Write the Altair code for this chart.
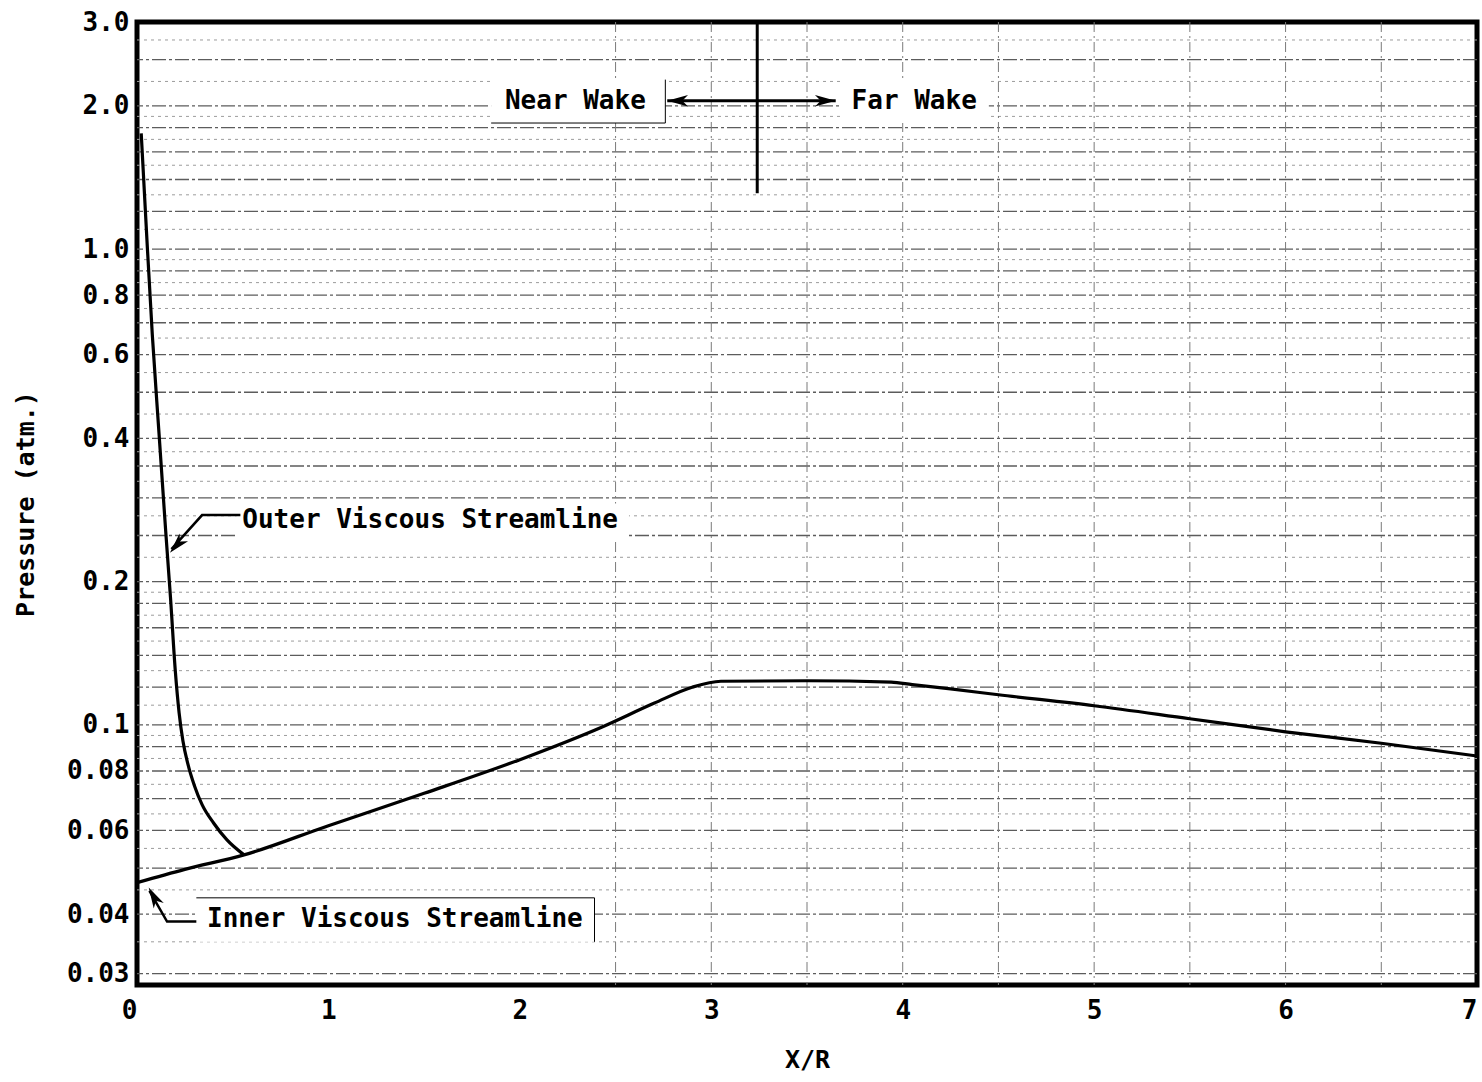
import altair as alt
import pandas as pd

# ---------------- data ----------------
outer_x = [0.022, 0.05, 0.08, 0.115, 0.15, 0.175, 0.20, 0.22, 0.24, 0.265, 0.30, 0.34, 0.40, 0.47, 0.559]
outer_p = [1.75, 1.08, 0.66, 0.41, 0.255, 0.185, 0.130, 0.106, 0.0925, 0.0830, 0.0745, 0.0680, 0.0622, 0.0573, 0.0533]

inner_x = [0.0, 0.25, 0.559, 1.0, 1.5, 2.0, 2.43, 2.7, 2.9, 3.05, 3.5, 3.94, 4.05, 4.25, 4.5, 5.0, 5.5, 6.0, 6.5, 7.0]
inner_p = [0.0466, 0.0497, 0.0533, 0.0614, 0.0718, 0.0845, 0.099, 0.111, 0.120, 0.1235, 0.1238, 0.123,
           0.1215, 0.119, 0.1157, 0.1097, 0.103, 0.0967, 0.0915, 0.086]

y_ticks = [0.03, 0.04, 0.06, 0.08, 0.1, 0.2, 0.4, 0.6, 0.8, 1.0, 2.0, 3.0]
x_ticks = [0, 1, 2, 3, 4, 5, 6, 7]

grid_major = [0.03, 0.04, 0.05, 0.06, 0.07, 0.08, 0.09, 0.1, 0.12, 0.14, 0.16, 0.18, 0.2, 0.25,
              0.3, 0.35, 0.4, 0.5, 0.6, 0.7, 0.8, 0.9, 1.0, 1.2, 1.4, 1.6, 1.8, 2.0, 2.5]
grid_minor = [0.035, 0.045, 0.055, 0.065, 0.075, 0.085, 0.095, 0.11, 0.13, 0.15, 0.17, 0.19,
              0.225, 0.275, 0.325, 0.375, 0.45, 0.55, 0.65, 0.75, 0.85, 0.95, 1.1, 1.3, 1.5,
              1.7, 1.9, 2.25, 2.75]
grid_vert = [2.5, 3.0, 3.5, 4.0, 4.5, 5.0, 5.5, 6.0, 6.5]

# annotation labels
label_text = ["Near Wake", "Far Wake", "Outer Viscous Streamline", "Inner Viscous Streamline"]
label_x = [2.29, 4.06, 0.55, 0.366]
label_p = [2.05, 2.05, 0.27, 0.039]
label_align = ["center", "center", "left", "left"]

# white label backgrounds
box_x = [1.85, 3.68, 0.52, 0.31]
box_x2 = [2.76, 4.45, 2.57, 2.39]
box_p = [1.84, 1.84, 0.247, 0.035]
box_p2 = [2.27, 2.27, 0.292, 0.0433]

# leader lines (polylines)
lead_grp = ["wake", "wake", "div", "div", "outer", "outer", "outer", "inner", "inner", "inner",
            "nbox", "nbox", "nbox", "ibox", "ibox", "ibox"]
lead_x = [2.77, 3.65, 3.24, 3.24, 0.54, 0.34, 0.18, 0.31, 0.157, 0.065,
          1.85, 2.76, 2.76, 0.31, 2.39, 2.39]
lead_p = [2.05, 2.05, 3.0, 1.31, 0.276, 0.276, 0.234, 0.0386, 0.0386, 0.0448,
          1.84, 1.84, 2.27, 0.0433, 0.0433, 0.035]
lead_w = [3, 3, 3, 3, 2.5, 2.5, 2.5, 2.5, 2.5, 2.5, 1, 1, 1, 1, 1, 1]

# arrowheads
head_x = [2.77, 3.65, 0.172, 0.061]
head_p = [2.05, 2.05, 0.230, 0.0455]
head_angle = [270, 90, 222, 331]

# ---------------- build tables ----------------
curves = pd.DataFrame(
    {"x": outer_x + inner_x,
     "p": outer_p + inner_p,
     "curve": ["outer"] * len(outer_x) + ["inner"] * len(inner_x),
     "o": list(range(len(outer_x))) + list(range(len(inner_x)))}
)
labels = pd.DataFrame({"x": label_x, "p": label_p, "label": label_text, "align": label_align})
boxes = pd.DataFrame({"x": box_x, "x2": box_x2, "p": box_p, "p2": box_p2})
leads = pd.DataFrame({"x": lead_x, "p": lead_p, "grp": lead_grp, "w": lead_w,
                      "o": list(range(len(lead_x)))})
heads = pd.DataFrame({"x": head_x, "p": head_p, "angle": head_angle})
gh = pd.DataFrame({"p": grid_major + grid_minor,
                   "kind": ["major"] * len(grid_major) + ["minor"] * len(grid_minor)})
gv = pd.DataFrame({"x": grid_vert})

FONT = "DejaVu Sans Mono"

xs = alt.Scale(domain=[0, 7], nice=False, zero=False)
ys = alt.Scale(type="log", domain=[0.0284, 3.0], nice=False)

x_axis = alt.Axis(values=x_ticks, format="d", title="X/R", labelPadding=12, titlePadding=24,
                  labelFlush=False,
                  labelAlign={"condition": {"test": "datum.value >= 7 || datum.value <= 0",
                                            "value": "right"},
                              "value": "center"},
                  grid=False, ticks=False, domain=False)
y_axis = alt.Axis(values=y_ticks, title="Pressure (atm.)", labelPadding=8, titlePadding=28,
                  grid=False, ticks=False, domain=False,
                  labelExpr="datum.value >= 1 ? format(datum.value, '.1f') : format(datum.value, '~g')")


def X(field="x"):
    return alt.X(f"{field}:Q", scale=xs, axis=x_axis)


def Y(field="p"):
    return alt.Y(f"{field}:Q", scale=ys, axis=y_axis)


grid_h_major = alt.Chart(gh).transform_filter("datum.kind == 'major'").mark_rule(
    color="#5c5c5c", strokeWidth=1.3, strokeDash=[14, 3, 3, 3]
).encode(y=Y())
grid_h_minor = alt.Chart(gh).transform_filter("datum.kind == 'minor'").mark_rule(
    color="#9c9c9c", strokeWidth=1, strokeDash=[3, 4]
).encode(y=Y())
grid_v = alt.Chart(gv).mark_rule(color="#7a7a7a", strokeWidth=1, strokeDash=[10, 4, 2, 4]).encode(
    x=X()
)

box_layer = alt.Chart(boxes).mark_rect(color="white", opacity=1).encode(
    x=X(), x2="x2:Q", y=Y(), y2="p2:Q"
)

curve_layer = alt.Chart(curves).mark_line(
    color="black", strokeWidth=3.2, interpolate="monotone"
).encode(x=X(), y=Y(), detail="curve:N", order="o:Q")

lead_layer = alt.Chart(leads).mark_line(color="black").encode(
    x=X(), y=Y(), detail="grp:N", order="o:Q",
    strokeWidth=alt.StrokeWidth("w:Q", scale=None, legend=None)
)

head_layer = alt.Chart(heads).mark_point(
    shape="M0,0L0.55,2L0,1.45L-0.55,2Z", filled=True, color="black", opacity=1, size=430,
    strokeWidth=0
).encode(x=X(), y=Y(), angle=alt.Angle("angle:Q", scale=None))

text_center = alt.Chart(labels).transform_filter("datum.align == 'center'").mark_text(
    font=FONT, fontSize=26, fontWeight="bold", color="black", align="center", baseline="middle"
).encode(x=X(), y=Y(), text="label:N")
text_left = alt.Chart(labels).transform_filter("datum.align == 'left'").mark_text(
    font=FONT, fontSize=26, fontWeight="bold", color="black", align="left", baseline="middle"
).encode(x=X(), y=Y(), text="label:N")

chart = alt.layer(
    grid_h_minor, grid_h_major, grid_v, box_layer, curve_layer, lead_layer, head_layer,
    text_center, text_left
).properties(
    width=1340, height=963,
    autosize=alt.AutoSizeParams(type="none"),
    padding={"left": 137, "top": 22, "right": 5, "bottom": 97},
    background="white",
).configure_view(
    stroke="black", strokeWidth=5
).configure_axis(
    labelFont=FONT, labelFontSize=26, labelFontWeight="bold", labelColor="black",
    titleFont=FONT, titleFontSize=25, titleFontWeight="bold", titleColor="black",
)

chart.save("out.html", embed_options={"renderer": "svg", "actions": False})
